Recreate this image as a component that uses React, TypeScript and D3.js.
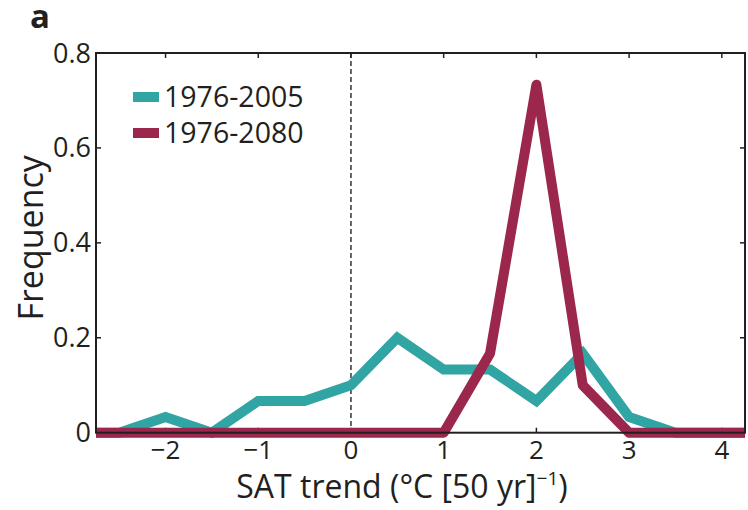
import React from "react";
import * as d3 from "d3";

const bins = [-3, -2.5, -2, -1.5, -1, -0.5, 0, 0.5, 1, 1.5, 2, 2.5, 3, 3.5, 4, 4.5];
const hist2005 = [0, 0, 0.033, 0, 0.067, 0.067, 0.1, 0.2, 0.133, 0.133, 0.067, 0.167, 0.033, 0, 0, 0];
const hist2080 = [0, 0, 0, 0, 0, 0, 0, 0, 0, 0.167, 0.733, 0.1, 0, 0, 0, 0];
const xTicks = [-2, -1, 0, 1, 2, 3, 4];
const yTicks = [0, 0.2, 0.4, 0.6, 0.8];
const seriesNames = ["1976-2005", "1976-2080"];
const colors = ["#31a5a3", "#9b274d"];

const L = 96, R = 745, T = 53, B = 432.7;
const font = "'Open Sans', 'Noto Sans', sans-serif";
const axisColor = "#231f20";

export default function App() {
  const x = d3.scaleLinear().domain([-2.75, 4.25]).range([L, R]);
  const y = d3.scaleLinear().domain([0, 0.8]).range([B, T]);
  const line = d3
    .line<number>()
    .x((_, i) => x(bins[i]))
    .y((d) => y(d));
  const tl = 5;
  return (
    <svg
      width={748}
      height={510}
      style={{ position: "absolute", left: 0, top: 0, background: "#fff" }}
      fontFamily={font}
    >
      <defs>
        <clipPath id="plot">
          <rect x={L} y={T - 20} width={R - L} height={B - T + 40} />
        </clipPath>
      </defs>
      <text x={30} y={28} fontSize={33} fontWeight="bold" fill={axisColor}>
        a
      </text>
      {/* dashed zero line */}
      <line x1={x(0)} x2={x(0)} y1={T} y2={B} stroke="#000" strokeWidth={1.2} strokeDasharray="5,3" />
      {/* ticks */}
      {xTicks.map((t) => (
        <g key={"x" + t}>
          <line x1={x(t)} x2={x(t)} y1={B} y2={B - tl} stroke={axisColor} strokeWidth={1.5} />
          <line x1={x(t)} x2={x(t)} y1={T} y2={T + tl} stroke={axisColor} strokeWidth={1.5} />
          <text x={x(t)} y={459} fontSize={26} textAnchor="middle" fill={axisColor}>
            {t < 0 ? "\u2212" + Math.abs(t) : String(t)}
          </text>
        </g>
      ))}
      {yTicks.map((t) => (
        <g key={"y" + t}>
          <line x1={L} x2={L + tl} y1={y(t)} y2={y(t)} stroke={axisColor} strokeWidth={1.5} />
          <line x1={R} x2={R - tl} y1={y(t)} y2={y(t)} stroke={axisColor} strokeWidth={1.5} />
          <text x={91} y={y(t) + 9.5} fontSize={27} textAnchor="end" fill={axisColor}>
            {t === 0 ? "0" : t.toFixed(1)}
          </text>
        </g>
      ))}
      <g clipPath="url(#plot)">
        <path d={line(hist2005) || ""} fill="none" stroke={colors[0]} strokeWidth={10} strokeLinejoin="miter" strokeMiterlimit={4} />
        <path d={line(hist2080) || ""} fill="none" stroke={colors[1]} strokeWidth={10} strokeLinejoin="round" />
      </g>
      {/* box */}
      <rect x={L} y={T} width={R - L} height={B - T} fill="none" stroke={axisColor} strokeWidth={2} />
      {/* legend */}
      {seriesNames.map((n, i) => (
        <g key={n}>
          <rect x={133} y={92 + i * 36} width={26} height={10} fill={colors[i]} />
          <text x={164} y={107 + i * 36} fontSize={28.5} fill={axisColor}>
            {n}
          </text>
        </g>
      ))}
      {/* axis labels */}
      <text x={402} y={498} fontSize={32} textAnchor="middle" fill={axisColor}>
        SAT trend (°C [50 yr]
        <tspan fontSize={19} dy={-13}>{"\u22121"}</tspan>
        <tspan dy={13}>)</tspan>
      </text>
      <text
        transform={`translate(43, ${(T + B) / 2 - 5}) rotate(-90)`}
        fontSize={34}
        textAnchor="middle"
        fill={axisColor}
      >
        Frequency
      </text>
    </svg>
  );
}
